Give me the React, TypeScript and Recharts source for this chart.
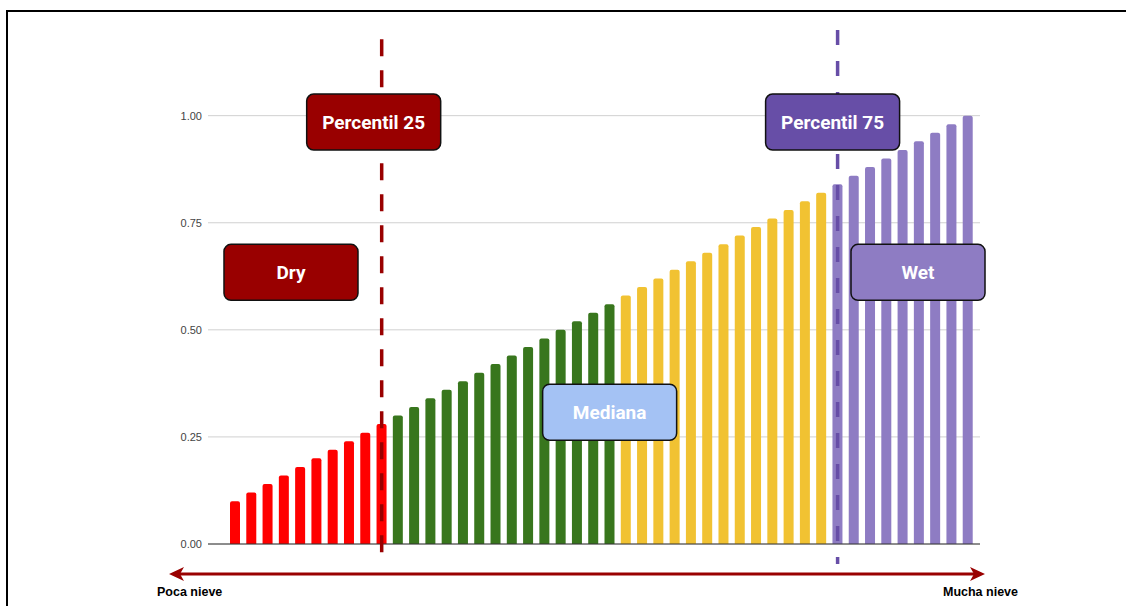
import React from "react";
import {
  Bar,
  BarChart,
  CartesianGrid,
  Cell,
  ReferenceDot,
  ReferenceLine,
  XAxis,
  YAxis
} from "recharts";

// snow index per ranked year, split by group
const dryValues = [0.1, 0.12, 0.14, 0.16, 0.18, 0.2, 0.22, 0.24, 0.26, 0.28];
const lowValues = [0.3, 0.32, 0.34, 0.36, 0.38, 0.4, 0.42, 0.44, 0.46, 0.48, 0.5, 0.52, 0.54, 0.56];
const highValues = [0.58, 0.6, 0.62, 0.64, 0.66, 0.68, 0.7, 0.72, 0.74, 0.76, 0.78, 0.8, 0.82];
const wetValues = [0.84, 0.86, 0.88, 0.9, 0.92, 0.94, 0.96, 0.98, 1.0];

const ranks = [
  "1", "2", "3", "4", "5", "6", "7", "8", "9", "10",
  "11", "12", "13", "14", "15", "16", "17", "18", "19", "20",
  "21", "22", "23", "24", "25", "26", "27", "28", "29", "30",
  "31", "32", "33", "34", "35", "36", "37", "38", "39", "40",
  "41", "42", "43", "44", "45", "46"
];

const yTicks = [0, 0.25, 0.5, 0.75, 1];

const groupColors = {
  dry: "#ff0000",
  low: "#38761d",
  high: "#f1c232",
  wet: "#8e7cc3"
};

const data = [
  ...dryValues.map((value) => ({ value, group: "dry" })),
  ...lowValues.map((value) => ({ value, group: "low" })),
  ...highValues.map((value) => ({ value, group: "high" })),
  ...wetValues.map((value) => ({ value, group: "wet" }))
].map((d, i) => ({ ...d, rank: ranks[i] }));

const BOX_W = 134;
const BOX_H = 56;

function labelBox(text: string, fill: string, dx = 0, dy = 0) {
  return (props: any) => {
    const cx = props.cx + dx;
    const cy = props.cy + dy;
    return (
      <g>
        <rect
          x={cx - BOX_W / 2}
          y={cy - BOX_H / 2}
          width={BOX_W}
          height={BOX_H}
          rx={7}
          fill={fill}
          stroke="#111"
          strokeWidth={1.5}
        />
        <text
          x={cx}
          y={cy}
          dy="0.36em"
          textAnchor="middle"
          fill="#fff"
          fontFamily="Roboto, 'Liberation Sans', Arial, sans-serif"
          fontWeight={700}
          fontSize={19}
        >
          {text}
        </text>
      </g>
    );
  };
}

function percentileLine(color: string, dash: string, top: number, offset: number) {
  return (props: any) => {
    const yTop = Math.min(props.y1, props.y2);
    const yBottom = Math.max(props.y1, props.y2);
    return (
      <line
        x1={props.x1}
        x2={props.x2}
        y1={yTop + top}
        y2={yBottom + 20}
        stroke={color}
        strokeWidth={3.5}
        strokeDasharray={dash}
        strokeDashoffset={offset}
      />
    );
  };
}

function baseline(props: any) {
  const { x1, x2, y1 } = props;
  const ay = y1 + 30;
  const left = x1 - 39;
  const right = x2 + 5;
  const arrowColor = "#990000";
  const font = "'Liberation Sans', Arial, sans-serif";
  return (
    <g>
      <line x1={x1} x2={x2} y1={y1} y2={y1} stroke="#333" strokeWidth={1} />
      <line x1={left + 8} x2={right - 8} y1={ay} y2={ay} stroke={arrowColor} strokeWidth={3} />
      <polygon
        points={`${left},${ay} ${left + 15},${ay - 7} ${left + 11},${ay} ${left + 15},${ay + 7}`}
        fill={arrowColor}
      />
      <polygon
        points={`${right},${ay} ${right - 15},${ay - 7} ${right - 11},${ay} ${right - 15},${ay + 7}`}
        fill={arrowColor}
      />
      <text x={left - 12} y={ay + 22} fontFamily={font} fontWeight={700} fontSize={12.5} fill="#000">
        Poca nieve
      </text>
      <text
        x={right + 33}
        y={ay + 22}
        textAnchor="end"
        fontFamily={font}
        fontWeight={700}
        fontSize={12.5}
        fill="#000"
      >
        Mucha nieve
      </text>
    </g>
  );
}

export default function App() {
  return (
    <div style={{ position: "absolute", left: 0, top: 0, width: 1126, height: 606, background: "#fff", overflow: "hidden" }}>
      <div
        style={{
          position: "absolute",
          left: 6,
          top: 10,
          width: 1200,
          height: 640,
          border: "2px solid #000"
        }}
      />
      <BarChart
        width={1126}
        height={606}
        data={data}
        margin={{ top: 30, right: 146, bottom: 62, left: 0 }}
        style={{ position: "absolute", left: 0, top: 0 }}
      >
        <CartesianGrid stroke="#d0d0d0" vertical={false} horizontalValues={yTicks} />
        <XAxis dataKey="rank" hide padding={{ left: 19, right: 4 }} />
        <YAxis
          width={208}
          domain={[0, 1.2]}
          ticks={yTicks}
          tickFormatter={(v: number) => v.toFixed(2)}
          axisLine={false}
          tickLine={false}
          tickSize={0}
          tickMargin={6}
          tick={{ fill: "#444", fontSize: 11, fontFamily: "'Liberation Sans', Arial, sans-serif" }}
        />
        <Bar dataKey="value" barSize={10} radius={[2, 2, 0, 0]} isAnimationActive={false}>
          {data.map((d) => (
            <Cell key={d.rank} fill={groupColors[d.group as keyof typeof groupColors]} />
          ))}
        </Bar>
        <ReferenceLine y={0} shape={baseline} />
        <ReferenceLine x="10" shape={percentileLine("#990000", "17 14", 8, 29.7)} />
        <ReferenceLine x="38" shape={percentileLine("#674ea7", "15 16", 0, 0)} />
        <ReferenceDot x="10" y={0.985} shape={labelBox("Percentil 25", "#990000", -8)} />
        <ReferenceDot x="38" y={0.985} shape={labelBox("Percentil 75", "#674ea7", -5)} />
        <ReferenceDot x="4" y={0.64} shape={labelBox("Dry", "#990000", 7, 2.5)} />
        <ReferenceDot x="43" y={0.64} shape={labelBox("Wet", "#8e7cc3", -1, 2.5)} />
        <ReferenceDot x="24" y={0.31} shape={labelBox("Mediana", "#a4c2f4", 0, 1)} />
      </BarChart>
    </div>
  );
}
